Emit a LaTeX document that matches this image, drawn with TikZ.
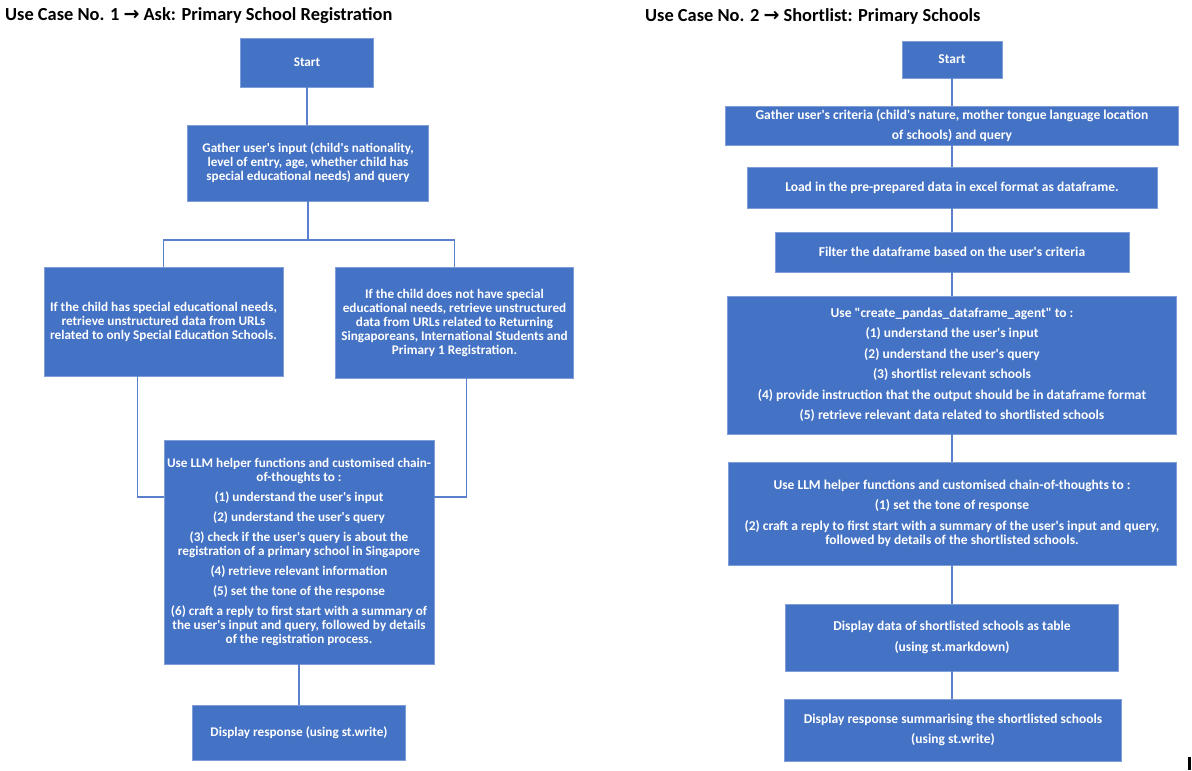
\documentclass[tikz,border=0pt]{standalone}
\usepackage{fontspec}
\setmainfont{Carlito}[Ligatures=TeXOff]
\newfontfamily\arrowfont{DejaVu Sans}
\definecolor{boxblue}{HTML}{4472C4}
\definecolor{edgeblue}{HTML}{7F9DD6}
\definecolor{lineblue}{HTML}{5A7FCC}
\newcommand{\bigarrow}{{\arrowfont\bfseries\fontsize{19}{20}\selectfont →}}
\begin{document}
\begin{tikzpicture}[x=1pt,y=-1pt,
  box/.style={fill=boxblue, draw=edgeblue, line width=0.6pt, text=white, align=center, inner sep=1pt, font=\bfseries\fontsize{13.2}{14}\selectfont},
  boxr/.style={box, font=\bfseries\fontsize{13.5}{14.5}\selectfont},
  sz/.style 2 args={minimum width=#1pt, minimum height=#2pt},
  conn/.style={draw=lineblue, line width=1.6pt},
  title/.style={anchor=west, inner sep=0pt, font=\bfseries\fontsize{18.4}{20}\selectfont}]
\useasboundingbox (0,0) rectangle (1192,771);

% titles
\node[title] (t1) at (5,16) {Use Case No. 1 \bigarrow{} Ask: Primary School Registration};
\node[title] (t2) at (645,16) {Use Case No. 2 \bigarrow{} Shortlist: Primary Schools};

% ---------- left flow ----------
\node[box, sz={133}{49}] (ls) at (307,62.5) {Start};
\node[box, sz={241}{76}] (lg) at (308,163) {Gather user's input (child's nationality,\\level of entry, age, whether child has\\special educational needs) and query};
\node[box, sz={239}{109}] (la) at (163.5,321.5) {If the child has special educational needs,\\retrieve unstructured data from URLs\\related to only Special Education Schools.};
\node[box, sz={238}{111}] (lb) at (454.5,322.5) {If the child does not have special\\educational needs, retrieve unstructured\\data from URLs related to Returning\\Singaporeans, International Students and\\Primary 1 Registration.};
\node[box, sz={270}{224}] (ll) at (299,552) {Use LLM helper functions and customised chain-\\of-thoughts to :\\[6pt]
(1) understand the user's input\\[6pt]
(2) understand the user's query\\[6pt]
(3) check if the user's query is about the\\registration of a primary school in Singapore\\[6pt]
(4) retrieve relevant information\\[6pt]
(5) set the tone of the response\\[6pt]
(6) craft a reply to first start with a summary of\\the user's input and query, followed by details\\of the registration process.};
\node[box, sz={213}{55}] (ld) at (299,733) {Display response (using st.write)};

\coordinate (split) at (308,240);
\draw[conn] (ls.south) -- (ls.south |- lg.north);
\draw[conn] (lg.south) -- (lg.south |- split);
\draw[conn] (la.north) |- (split) -| (lb.north);
\draw[conn] ([xshift=-26pt]la.south) |- ([yshift=-57pt]ll.north west);
\draw[conn] ([xshift=12pt]lb.south) |- ([yshift=-57pt]ll.north east);
\draw[conn] (ll.south) -- (ld.north);

% ---------- right flow ----------
\node[boxr, sz={100}{37}] (rs) at (952,59.5) {Start};
\node[boxr, sz={453}{39}] (rg) at (952,125.5) {Gather user's criteria (child's nature, mother tongue language location\\[5.5pt]of schools) and query};
\node[boxr, sz={410}{41}] (rl) at (952,187.5) {Load in the pre-prepared data in excel format as dataframe.};
\node[boxr, sz={354}{40}] (rf) at (952,252) {Filter the dataframe based on the user's criteria};
\node[boxr, sz={449}{138}] (rc) at (952,365) {Use "create\_pandas\_dataframe\_agent" to :\\[6pt]
(1) understand the user's input\\[6pt]
(2) understand the user's query\\[6pt]
(3) shortlist relevant schools\\[6pt]
(4) provide instruction that the output should be in dataframe format\\[6pt]
(5) retrieve relevant data related to shortlisted schools};
\node[boxr, sz={448}{103}] (rh) at (952,513.5) {Use LLM helper functions and customised chain-of-thoughts to :\\[6pt]
(1) set the tone of response\\[6pt]
(2) craft a reply to first start with a summary of the user's input and query,\\followed by details of the shortlisted schools.};
\node[boxr, sz={333}{67}] (rd) at (952,637.5) {Display data of shortlisted schools as table\\[6pt](using st.markdown)};
\node[boxr, sz={337}{62}] (rr) at (953,730) {Display response summarising the shortlisted schools\\[6pt](using st.write)};

\draw[conn] (rs.south) -- (rg.north);
\draw[conn] (rg.south) -- (rl.north);
\draw[conn] (rl.south) -- (rf.north);
\draw[conn] (rf.south) -- (rc.north);
\draw[conn] (rc.south) -- (rh.north);
\draw[conn] (rh.south) -- (rd.north);
\draw[conn] (rd.south) -- (rd.south |- rr.north);

% cursor mark at lower right
\fill[black] (1188,757) rectangle (1191,770);
\end{tikzpicture}
\end{document}
